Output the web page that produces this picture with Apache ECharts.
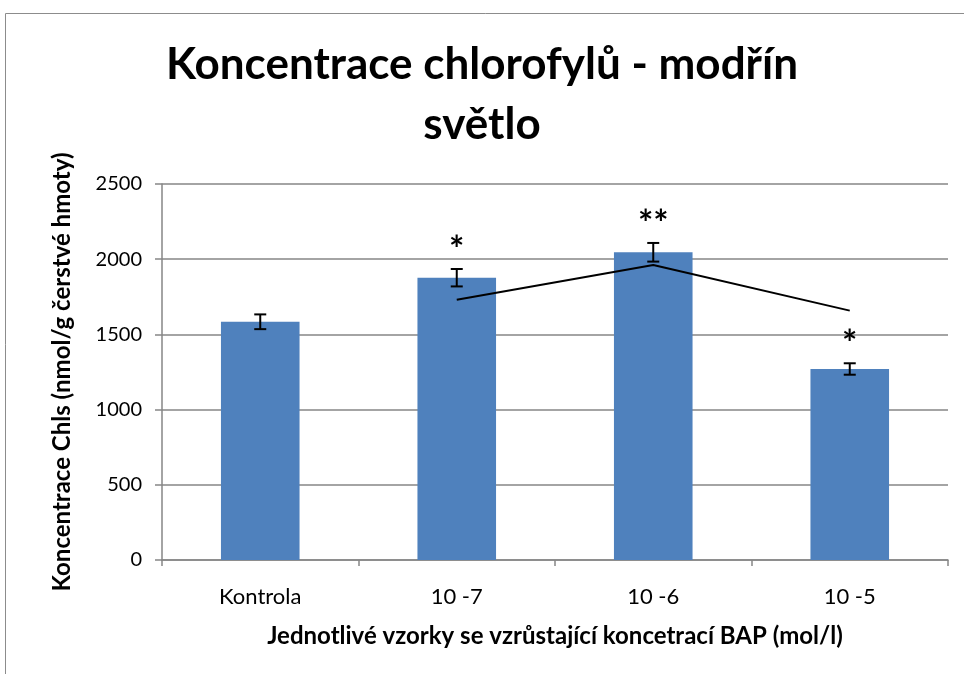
<!DOCTYPE html>
<html>
<head>
<meta charset="utf-8">
<script src="https://cdn.jsdelivr.net/npm/echarts@6/dist/echarts.min.js"></script>
<style>
  html, body { margin: 0; padding: 0; background: #fff; }
  #main { width: 964px; height: 674px; }
</style>
</head>
<body>
<div id="main"></div>
<script>
var categories = ['Kontrola', '10 -7', '10 -6', '10 -5'];
var means = [1584, 1877, 2046, 1270];
var errors = [49, 58, 62, 38];
var trend = [null, 1730, 1961, 1658];   // moving average trendline from the original
var marks = ['', '*', '**', '*'];
var yTicks = [0, 500, 1000, 1500, 2000, 2500];

var myChart = echarts.init(document.getElementById('main'));

var errData = means.map(function (m, i) {
    return [i, m - errors[i], m + errors[i], marks[i]];
});

var option = {
    animation: false,
    textStyle: { fontFamily: 'Lato' },
    title: {
        text: 'Koncentrace chlorofylů - modřín\nsvětlo',
        left: 'center',
        top: 30,
        textStyle: {
            fontFamily: 'Lato',
            fontSize: 44,
            fontWeight: 'bold',
            color: '#000',
            lineHeight: 60
        }
    },
    graphic: [{
        type: 'rect',
        shape: { x: 5.5, y: 13.5, width: 1000, height: 700 },
        style: { fill: 'none', stroke: '#8c8c8c', lineWidth: 1 },
        silent: true
    }],
    grid: { left: 162, right: 16, top: 184, bottom: 114 },
    xAxis: {
        type: 'category',
        data: categories,
        axisLine: { lineStyle: { color: '#868686', width: 1.5 } },
        axisTick: { show: true, length: 6, lineStyle: { color: '#868686', width: 1.5 } },
        axisLabel: { color: '#000', fontSize: 22, margin: 26 },
        name: 'Jednotlivé vzorky se vzrůstající koncetrací BAP (mol/l)',
        nameLocation: 'middle',
        nameGap: 64,
        nameTextStyle: { color: '#000', fontSize: 24, fontWeight: 'bold' }
    },
    yAxis: {
        type: 'value',
        min: yTicks[0],
        max: yTicks[yTicks.length - 1],
        interval: 500,
        axisLine: { show: true, lineStyle: { color: '#868686', width: 1.5 } },
        axisTick: { show: true, length: 7, lineStyle: { color: '#868686', width: 1.5 } },
        splitLine: { lineStyle: { color: '#868686', width: 1.5 } },
        axisLabel: { color: '#000', fontSize: 20, margin: 20, formatter: function (v) { return String(v); } },
        name: 'Koncentrace Chls (nmol/g čerstvé hmoty)',
        nameLocation: 'middle',
        nameGap: 88,
        nameTextStyle: { color: '#000', fontSize: 24, fontWeight: 'bold' }
    },
    series: [
        {
            type: 'bar',
            data: means,
            barWidth: '40%',
            itemStyle: { color: '#4F81BD' },
            z: 2
        },
        {
            type: 'line',
            data: trend,
            symbol: 'none',
            lineStyle: { color: '#000', width: 2 },
            z: 4
        },
        {
            type: 'custom',
            data: errData,
            z: 5,
            renderItem: function (params, api) {
                var lo = api.coord([api.value(0), api.value(1)]);
                var hi = api.coord([api.value(0), api.value(2)]);
                var w = 6;
                var st = { stroke: '#000', lineWidth: 2 };
                var children = [
                    { type: 'line', shape: { x1: hi[0], y1: hi[1], x2: lo[0], y2: lo[1] }, style: st },
                    { type: 'line', shape: { x1: hi[0] - w, y1: hi[1], x2: hi[0] + w, y2: hi[1] }, style: st },
                    { type: 'line', shape: { x1: lo[0] - w, y1: lo[1], x2: lo[0] + w, y2: lo[1] }, style: st }
                ];
                var mark = marks[params.dataIndex];
                if (mark) {
                    children.push({
                        type: 'text',
                        style: {
                            text: mark,
                            x: hi[0],
                            y: hi[1] - 1,
                            align: 'center',
                            verticalAlign: 'bottom',
                            fontFamily: 'Lato',
                            fontSize: 36,
                            fontWeight: 'bold',
                            fill: '#000'
                        }
                    });
                }
                return { type: 'group', children: children };
            }
        }
    ]
};
myChart.setOption(option);
</script>
</body>
</html>
